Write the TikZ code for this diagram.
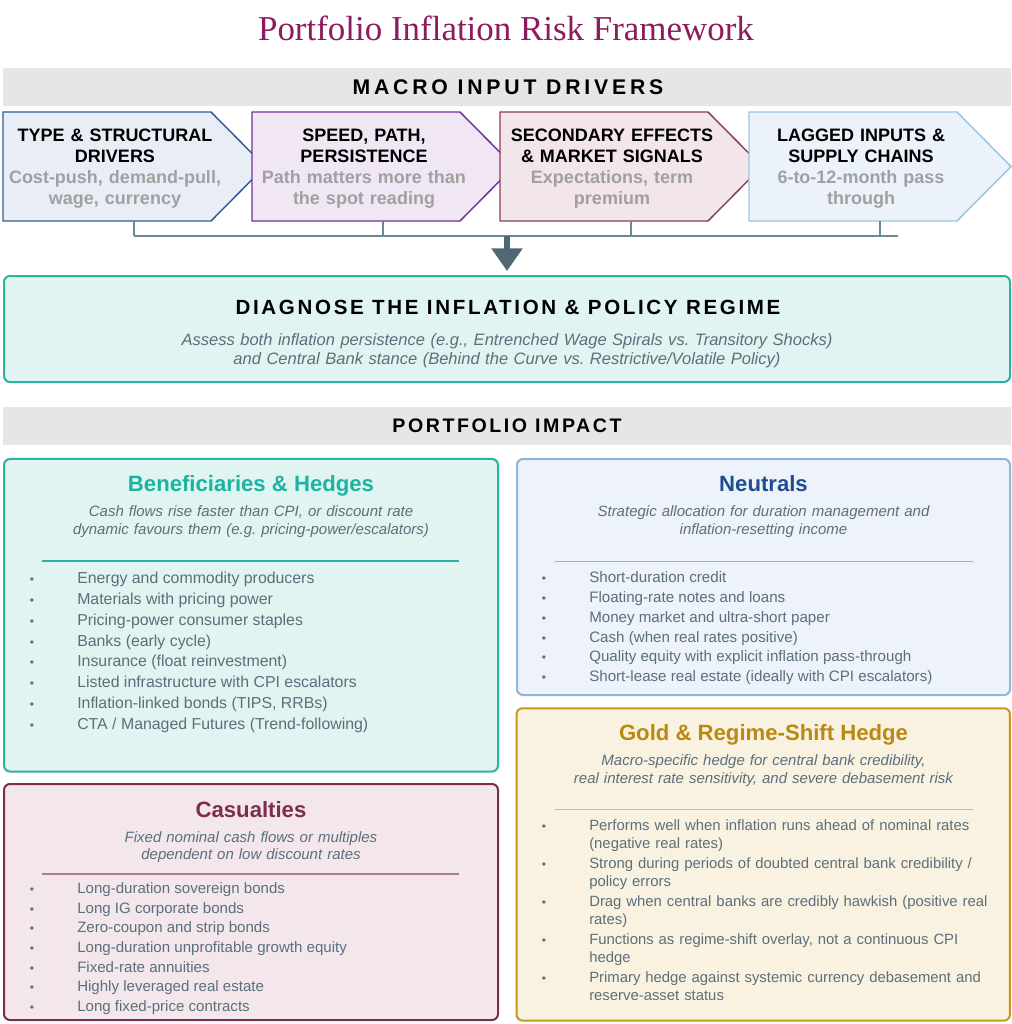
\documentclass[tikz,border=0pt]{standalone}
\usepackage{fontspec}
\setmainfont{Liberation Sans}
\newfontfamily\titlefont{Liberation Serif}
\newfontfamily\hdrwide[LetterSpace=18]{Liberation Sans}
\newfontfamily\hdrmid[LetterSpace=13]{Liberation Sans}
\usetikzlibrary{arrows.meta}
\definecolor{titlec}{HTML}{8C1C5E}
\definecolor{band}{HTML}{E6E6E6}
\definecolor{chAf}{HTML}{E9EEF6}\definecolor{chAd}{HTML}{2F5C99}
\definecolor{chBf}{HTML}{F1E6F3}\definecolor{chBd}{HTML}{7030A0}
\definecolor{chCf}{HTML}{F3E6EB}\definecolor{chCd}{HTML}{8A3D5C}
\definecolor{chDf}{HTML}{EBF2FA}\definecolor{chDd}{HTML}{9CC4E2}
\definecolor{subgray}{HTML}{A0A0A0}
\definecolor{conn}{HTML}{6D8793}
\definecolor{arrowc}{HTML}{4F6874}
\definecolor{bodyc}{HTML}{5B6F7C}
\definecolor{tealf}{HTML}{E0F4F1}\definecolor{teald}{HTML}{2AB3A5}\definecolor{tealt}{HTML}{1BB3A2}
\definecolor{neuf}{HTML}{EEF2FA}\definecolor{neud}{HTML}{8EB6D8}\definecolor{neut}{HTML}{1F4E8F}
\definecolor{casf}{HTML}{F3E7EC}\definecolor{casd}{HTML}{7D2E4E}\definecolor{casl}{HTML}{B07A90}
\definecolor{goldf}{HTML}{FAF2E0}\definecolor{goldd}{HTML}{C9971F}\definecolor{goldt}{HTML}{B98A12}\definecolor{goldl}{HTML}{E0BC62}
\newcommand\bul{\llap{\hbox to 68pt{\hfil{\fontsize{9}{9}\selectfont\textbullet}\hfil}}}
\frenchspacing
\begin{document}
\frenchspacing
\begin{tikzpicture}[x=0.75pt,y=-0.75pt,
  bandbox/.style={fill=band,draw=none,minimum width=756pt,minimum height=28.5pt,inner sep=0},
  chevtext/.style={anchor=base,inner sep=0,text width=180pt,align=center,font=\bfseries\fontsize{13.5}{15.7}\selectfont},
  panel/.style={rounded corners=4.5pt,line width=1.5pt,inner sep=0},
  ptitle/.style={anchor=base,inner sep=0,font=\bfseries\fontsize{16.6}{18}\selectfont},
  psub/.style={anchor=base,inner sep=0,text width=330pt,align=center,text=bodyc,font=\itshape\fontsize{11.25}{13.2}\selectfont},
  item/.style={anchor=base west,inner sep=0,text=bodyc},
  gitem/.style={item,text width=340pt,align=left,font=\fontsize{11.15}{13.7}\selectfont},
  ticks/.style={draw=conn,line width=1.5pt}]
\useasboundingbox[fill=white] (0,0) rectangle (1012,1024);

% title
\node[anchor=base,inner sep=0,text=titlec,font=\titlefont\fontsize{26.2}{30}\selectfont] (title) at (506,41) {Portfolio Inflation Risk Framework};

% macro band
\node[bandbox] (macroband) at (507,87) {};
\node[anchor=base,inner sep=0,font=\hdrwide\bfseries\fontsize{15.9}{18}\selectfont] (macrotxt) at (508,94.3) {MACRO INPUT DRIVERS};

% chevrons
\draw[line width=1.1pt,fill=chAf,draw=chAd] (3,112) -- ++(208,0) -- ++(54,54.5) -- ++(-54,54.5) -- ++(-208,0) -- cycle;
\draw[line width=1.1pt,fill=chBf,draw=chBd] (252,112) -- ++(208,0) -- ++(54,54.5) -- ++(-54,54.5) -- ++(-208,0) -- cycle;
\draw[line width=1.1pt,fill=chCf,draw=chCd] (500,112) -- ++(208,0) -- ++(54,54.5) -- ++(-54,54.5) -- ++(-208,0) -- cycle;
\draw[line width=1.1pt,fill=chDf,draw=chDd] (749,112) -- ++(208,0) -- ++(54,54.5) -- ++(-54,54.5) -- ++(-208,0) -- cycle;
\coordinate (c1b) at (134,221);
\coordinate (c2b) at (383,221);
\coordinate (c3b) at (631,221);
\coordinate (c4b) at (880,221);

\node[chevtext] (c1t) at (115,141.7) {TYPE \& STRUCTURAL\\DRIVERS\\\textcolor{subgray}{Cost-push, demand-pull,}\\\textcolor{subgray}{wage, currency}};
\node[chevtext] (c2t) at (364,141.7) {SPEED, PATH,\\PERSISTENCE\\\textcolor{subgray}{Path matters more than}\\\textcolor{subgray}{the spot reading}};
\node[chevtext] (c3t) at (612,141.7) {SECONDARY EFFECTS\\\& MARKET SIGNALS\\\textcolor{subgray}{Expectations, term}\\\textcolor{subgray}{premium}};
\node[chevtext] (c4t) at (861,141.7) {LAGGED INPUTS \&\\SUPPLY CHAINS\\\textcolor{subgray}{6-to-12-month pass}\\\textcolor{subgray}{through}};

% bus
\coordinate (busL) at (134,236);
\coordinate (busR) at (898,236);
\coordinate (busM) at (507,236);
\draw[ticks] (busL) -- (busR);
\draw[ticks] (c1b) -- (c1b |- busL);
\draw[ticks] (c2b) -- (c2b |- busL);
\draw[ticks] (c3b) -- (c3b |- busL);
\draw[ticks] (c4b) -- (c4b |- busL);

% diagnose box
\node[panel,draw=teald,fill=tealf,minimum width=754.5pt,minimum height=79.5pt] (diag) at (507,329) {};
\draw[arrowc,line width=4.5pt,-{Triangle[width=22.5pt,length=17pt]},shorten >=3pt] (busM) -- (diag.north);
\node[anchor=base,inner sep=0,font=\hdrmid\bfseries\fontsize{15.4}{18}\selectfont] (diagt) at (508,314.4) {DIAGNOSE THE INFLATION \& POLICY REGIME};
\node[anchor=base,inner sep=0,text width=640pt,align=center,text=bodyc,font=\itshape\fontsize{12.4}{14.6}\selectfont] (diags) at (507,345.3) {Assess both inflation persistence (e.g., Entrenched Wage Spirals vs. Transitory Shocks)\\and Central Bank stance (Behind the Curve vs. Restrictive/Volatile Policy)};

% portfolio band
\node[bandbox] (portband) at (507,426) {};
\node[anchor=base,inner sep=0,font=\hdrmid\bfseries\fontsize{14.7}{18}\selectfont] (porttxt) at (507,432.4) {PORTFOLIO IMPACT};

% panels
\node[panel,draw=teald,fill=tealf,minimum width=370.5pt,minimum height=234.4pt] (bene) at (251,615.25) {};
\node[panel,draw=neud,fill=neuf,minimum width=369.75pt,minimum height=177pt] (neu) at (763.5,577) {};
\node[panel,draw=casd,fill=casf,minimum width=370.5pt,minimum height=177pt] (cas) at (251,902) {};
\node[panel,draw=goldd,fill=goldf,minimum width=370.1pt,minimum height=234.2pt] (gold) at (763.25,864.4) {};

% beneficiaries
\node[ptitle,text=tealt] (benet) at (251,491.7) {Beneficiaries \& Hedges};
\node[psub] (benes) at (251,516.7) {Cash flows rise faster than CPI, or discount rate\\dynamic favours them (e.g. pricing-power/escalators)};
\coordinate (benel) at (42,561);
\coordinate (bener) at (459,561);
\draw[teald,line width=0.8pt] (benel) -- (bener);
\foreach \t [count=\i] in {Energy and commodity producers,Materials with pricing power,Pricing-power consumer staples,Banks (early cycle),Insurance (float reinvestment),Listed infrastructure with CPI escalators,{Inflation-linked bonds (TIPS, RRBs)},CTA / Managed Futures (Trend-following)}
  \node[item,font=\fontsize{11.9}{13.7}\selectfont] (bi\i) at (77,{583.3+20.9*(\i-1)}) {\bul\t};

% neutrals
\node[ptitle,text=neut] (neut) at (763.5,491.7) {Neutrals};
\node[psub] (neus) at (763.5,516.7) {Strategic allocation for duration management and\\inflation-resetting income};
\coordinate (neul) at (555,561.7);
\coordinate (neur) at (973,561.7);
\draw[neud,line width=0.8pt] (neul) -- (neur);
\foreach \t [count=\i] in {Short-duration credit,Floating-rate notes and loans,Money market and ultra-short paper,Cash (when real rates positive),Quality equity with explicit inflation pass-through,Short-lease real estate (ideally with CPI escalators)}
  \node[item,font=\fontsize{11.35}{13.7}\selectfont] (ni\i) at (589,{582.3+19.9*(\i-1)}) {\bul\t};

% casualties
\node[ptitle,text=casd] (cast) at (251,817.3) {Casualties};
\node[psub] (cass) at (251,842.3) {Fixed nominal cash flows or multiples\\dependent on low discount rates};
\coordinate (casll) at (42,874);
\coordinate (caslr) at (459,874);
\draw[casl,line width=0.8pt] (casll) -- (caslr);
\foreach \t [count=\i] in {Long-duration sovereign bonds,Long IG corporate bonds,Zero-coupon and strip bonds,Long-duration unprofitable growth equity,Fixed-rate annuities,Highly leveraged real estate,Long fixed-price contracts}
  \node[item,font=\fontsize{11.3}{13.7}\selectfont] (ci\i) at (77,{893.3+19.7*(\i-1)}) {\bul\t};

% gold
\node[ptitle,text=goldt] (goldtt) at (763.5,740.7) {Gold \& Regime-Shift Hedge};
\node[psub] (golds) at (763.5,765.7) {Macro-specific hedge for central bank credibility,\\real interest rate sensitivity, and severe debasement risk};
\coordinate (goldll) at (555,809.3);
\coordinate (goldlr) at (973,809.3);
\draw[goldl,line width=0.8pt] (goldll) -- (goldlr);
\node[gitem] (gi1) at (589,830) {\bul Performs well when inflation runs ahead of nominal rates\\(negative real rates)};
\node[gitem] (gi2) at (589,868.3) {\bul Strong during periods of doubted central bank credibility /\\policy errors};
\node[gitem] (gi3) at (589,906) {\bul Drag when central banks are credibly hawkish (positive real\\rates)};
\node[gitem] (gi4) at (589,944.3) {\bul Functions as regime-shift overlay, not a continuous CPI\\hedge};
\node[gitem] (gi5) at (589,982.7) {\bul Primary hedge against systemic currency debasement and\\reserve-asset status};
\end{tikzpicture}
\end{document}
